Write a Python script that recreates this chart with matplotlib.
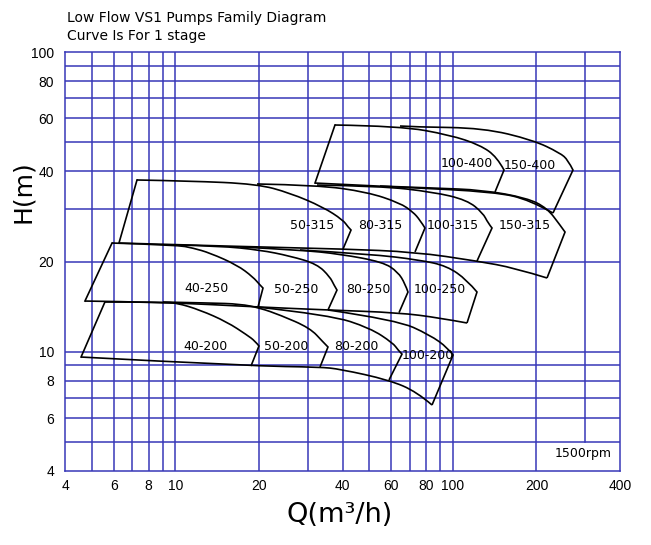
"""
Low Flow VS1 pumps family diagram (log-log H-Q chart).
"""
import matplotlib.pyplot as plt
import matplotlib.ticker as mtick
from matplotlib.path import Path
from matplotlib.patches import PathPatch

plt.rcParams['font.family'] = 'DejaVu Sans'

# --- axis ticks and grid -------------------------------------------------
x_ticks = [4, 6, 8, 10, 20, 40, 60, 80, 100, 200, 400]
y_ticks = [4, 6, 8, 10, 20, 40, 60, 80, 100]
x_grid = [5, 6, 7, 8, 9, 10, 20, 30, 40, 50, 60, 70, 80, 90, 100, 200, 300]
y_grid = [5, 6, 7, 8, 9, 10, 20, 30, 40, 50, 60, 70, 80, 90]

# --- 200 series ----------------------------------------------------------
q_200_left = [4.57, 5.57]
h_200_left = [9.60, 14.65]
q_200_bottom = [4.57, 18.72, 33.19, 39.18, 58.83, 74.24, 84.07]
h_200_bottom = [9.60, 8.96, 8.89, 8.75, 8.05, 7.34, 6.64]
q_40_200 = [5.57, 9.02, 10.13, 12.26, 15.34, 18.11, 19.35, 20.0, 18.72]
h_40_200 = [14.65, 14.65, 14.54, 13.78, 12.57, 11.37, 10.86, 10.45, 8.96]
q_50_200 = [9.02, 13.32, 17.09, 20.17, 23.82, 30.54, 34.02, 35.46, 33.19]
h_50_200 = [14.65, 14.54, 14.43, 13.99, 13.26, 12.00, 10.78, 10.37, 8.89]
q_80_200 = [19.68, 36.06, 50.25, 60.82, 63.4, 65.53, 58.83]
h_80_200 = [14.10, 13.26, 12.00, 10.69, 10.13, 9.82, 8.05]
q_100_200 = [35.46, 62.87, 82.68, 96.0, 100.1, 84.07]
h_100_200 = [13.78, 12.76, 11.37, 10.29, 9.75, 6.64]

# --- 250 series ----------------------------------------------------------
q_250_left = [4.72, 5.91]
h_250_left = [14.76, 23.05]
q_250_bottom = [4.72, 8.80, 19.84, 35.46, 63.93, 89.84, 112.4]
h_250_bottom = [14.76, 14.65, 14.10, 13.78, 13.5, 12.96, 12.47]
q_40_250 = [5.91, 10.13, 11.57, 13.32, 16.67, 19.03, 20.17, 20.68, 19.84]
h_40_250 = [23.05, 22.70, 22.18, 21.35, 19.47, 17.76, 16.69, 16.31, 14.10]
q_50_250 = [10.13, 14.47, 20.17, 25.88, 32.37, 36.06, 37.27, 38.21, 35.46]
h_50_250 = [22.70, 22.53, 21.85, 20.86, 19.62, 17.76, 16.69, 16.06, 13.78]
q_80_250 = [17.09, 28.11, 39.18, 55.98, 63.4, 67.18, 68.87, 63.93]
h_80_250 = [22.36, 21.85, 21.18, 19.92, 18.44, 16.88, 15.82, 13.5]
q_100_250 = [28.11, 50.25, 76.08, 95.2, 112.4, 122.1, 112.4]
h_100_250 = [21.85, 21.18, 20.23, 19.32, 17.35, 15.82, 12.47]

# --- 315 series ----------------------------------------------------------
q_315_left = [6.26, 7.27]
h_315_left = [23.05, 37.41]
q_315_bottom = [6.26, 19.68, 40.18, 73.0, 122.1, 167.4, 218.3]
h_315_bottom = [23.05, 22.36, 22.02, 21.52, 20.07, 19.02, 17.62]
q_50_315 = [7.27, 11.29, 19.68, 25.88, 34.02, 40.18, 41.88, 42.93, 40.18]
h_50_315 = [37.41, 37.13, 36.28, 33.85, 30.39, 27.50, 26.07, 25.47, 22.02]
q_80_315 = [19.68, 32.37, 49.0, 64.46, 71.8, 76.08, 79.3, 73.0]
h_80_315 = [36.28, 35.98, 34.12, 31.35, 29.25, 27.50, 25.87, 21.52]
q_100_315 = [32.37, 54.6, 84.76, 112.4, 128.3, 133.8, 138.3, 122.1]
h_100_315 = [35.98, 35.71, 34.12, 32.08, 29.02, 26.88, 25.87, 20.07]
q_150_315 = [54.6, 84.76, 128.3, 184.9, 218.3, 243.2, 253.5, 218.3]
h_150_315 = [35.71, 35.17, 34.64, 32.57, 30.16, 26.47, 25.08, 17.62]

# --- 400 series ----------------------------------------------------------
q_400_left = [31.84, 37.58]
h_400_left = [36.54, 57.07]
q_400_bottom = [31.84, 64.46, 141.8, 189.6, 229.4]
h_400_bottom = [36.54, 35.43, 34.12, 32.08, 29.02]
q_100_400 = [37.58, 64.46, 97.6, 125.2, 144.2, 152.8, 141.8]
h_100_400 = [57.07, 56.63, 52.86, 48.94, 44.63, 40.38, 34.12]
q_150_400 = [64.46, 74.24, 128.3, 194.3, 243.2, 259.8, 270.8, 229.4]
h_150_400 = [56.63, 56.20, 55.77, 50.85, 46.03, 43.62, 40.38, 29.02]

# --- model labels ----------------------------------------------------------
labels = ['40-200', '50-200', '80-200', '100-200',
          '40-250', '50-250', '80-250', '100-250',
          '50-315', '80-315', '100-315', '150-315',
          '100-400', '150-400']
label_q = [12.79, 25.03, 44.74, 81.3,
           12.89, 27.2, 49.4, 89.84,
           31.05, 54.6, 100.1, 181.8,
           112.4, 189.6]
label_h = [10.37, 10.37, 10.37, 9.68,
           16.31, 16.19, 16.19, 16.19,
           26.47, 26.47, 26.47, 26.47,
           42.62, 41.97]

edges = [(q_200_left, h_200_left), (q_250_left, h_250_left),
         (q_315_left, h_315_left), (q_400_left, h_400_left)]
bottoms = [(q_200_bottom, h_200_bottom), (q_250_bottom, h_250_bottom),
           (q_315_bottom, h_315_bottom), (q_400_bottom, h_400_bottom)]
models = [(q_40_200, h_40_200), (q_50_200, h_50_200),
          (q_80_200, h_80_200), (q_100_200, h_100_200),
          (q_40_250, h_40_250), (q_50_250, h_50_250),
          (q_80_250, h_80_250), (q_100_250, h_100_250),
          (q_50_315, h_50_315), (q_80_315, h_80_315),
          (q_100_315, h_100_315), (q_150_315, h_150_315),
          (q_100_400, h_100_400), (q_150_400, h_150_400)]


def smooth_verts(q, h):
    """quadratic bezier through the read points (midpoints in log space)"""
    verts = [(q[0], h[0])]
    codes = [Path.MOVETO]
    n = len(q)
    for i in range(1, n - 1):
        if i == n - 2:
            end = (q[i + 1], h[i + 1])
        else:
            end = ((q[i] * q[i + 1]) ** 0.5, (h[i] * h[i + 1]) ** 0.5)
        verts += [(q[i], h[i]), end]
        codes += [Path.CURVE3, Path.CURVE3]
    if n == 2:
        verts.append((q[1], h[1]))
        codes.append(Path.LINETO)
    return verts, codes


grid_color = '#3838b8'
curve_kw = dict(fill=False, edgecolor='black', lw=1.2, zorder=3)

fig = plt.figure(figsize=(6.51, 5.45), dpi=100)
ax = fig.add_axes([65/651, 1 - 471/545, 555/651, 419/545])
ax.set_xscale('log')
ax.set_yscale('log')
ax.set_xlim(4, 400)
ax.set_ylim(4, 100)

# grid (the 300 line stops at H=5, under the rpm note)
for xv in x_grid:
    ax.axvline(xv, ymin=0.0693 if xv == 300 else 0.0, color=grid_color, lw=1.1, zorder=1)
for yv in y_grid:
    ax.axhline(yv, color=grid_color, lw=1.1, zorder=1)
for sp in ax.spines.values():
    sp.set_color(grid_color)
    sp.set_linewidth(1.1)

for q, h in edges:
    ax.plot(q, h, color='black', lw=1.2, zorder=3)

for q, h in bottoms:
    v, c = smooth_verts(q, h)
    ax.add_patch(PathPatch(Path(v, c), **curve_kw))

# each model: smooth max-impeller curve to the notch tip, then straight back down
for q, h in models:
    v, c = smooth_verts(q[:-1], h[:-1])
    v.append((q[-1], h[-1]))
    c.append(Path.LINETO)
    ax.add_patch(PathPatch(Path(v, c), **curve_kw))

for name, q, h in zip(labels, label_q, label_h):
    ax.text(q, h, name, fontsize=9, ha='center', va='center', zorder=4)

ax.text(294.3, 4.59, '1500rpm', fontsize=9, ha='center', va='center')

ax.xaxis.set_major_locator(mtick.FixedLocator(x_ticks))
ax.yaxis.set_major_locator(mtick.FixedLocator(y_ticks))
ax.xaxis.set_minor_locator(mtick.NullLocator())
ax.yaxis.set_minor_locator(mtick.NullLocator())
ax.set_xticklabels([str(v) for v in x_ticks], family='Liberation Sans', fontsize=10)
ax.set_yticklabels([str(v) for v in y_ticks], family='Liberation Sans', fontsize=10)
ax.tick_params(axis='both', length=0)
ax.tick_params(axis='x', pad=6)
ax.tick_params(axis='y', pad=8)

fig.text(23/651, 1 - 192/545, 'H(m)', rotation=90, fontsize=18, ha='center', va='center')
fig.text(340/651, 1 - 515/545, 'Q(m³/h)', fontsize=19.5, ha='center', va='center')

fig.text(67/651, 1 - 18/545, 'Low Flow VS1 Pumps Family Diagram', fontsize=10, va='center')
fig.text(67/651, 1 - 36/545, 'Curve Is For 1 stage', fontsize=10, va='center')

fig.savefig('out.png', dpi=100)
